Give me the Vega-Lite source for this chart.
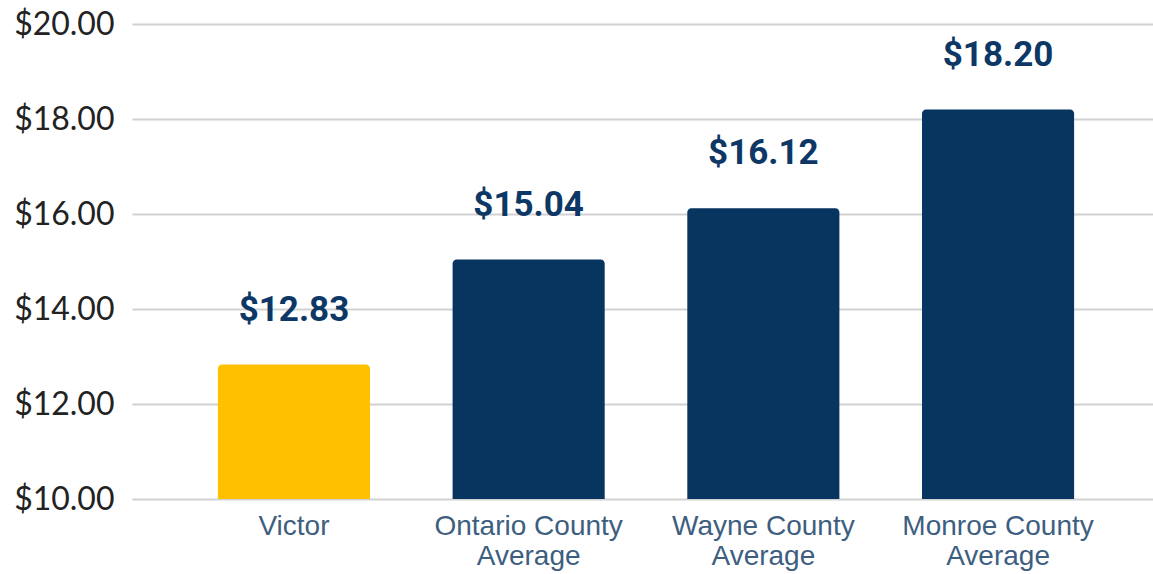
{
  "$schema": "https://vega.github.io/schema/vega-lite/v6.json",
  "width": 1028,
  "height": 475,
  "autosize": {"type": "none"},
  "padding": {"left": 132, "top": 24, "right": 0, "bottom": 75},
  "background": "white",
  "config": {"view": {"stroke": null}},
  "data": {
    "values": [
      {"place": "Victor", "wage": 12.83, "group": "Victor"},
      {"place": "Ontario County Average", "wage": 15.04, "group": "Other"},
      {"place": "Wayne County Average", "wage": 16.12, "group": "Other"},
      {"place": "Monroe County Average", "wage": 18.2, "group": "Other"}
    ]
  },
  "encoding": {
    "x": {
      "field": "place",
      "type": "nominal",
      "sort": null,
      "scale": {"paddingInner": 0.352, "paddingOuter": 0.366},
      "axis": {
        "title": null,
        "labelAngle": 0,
        "labelExpr": "split(datum.label, ' Average').length > 1 ? [replace(datum.label, ' Average', ''), 'Average'] : datum.label",
        "labelFont": "Liberation Sans",
        "labelFontSize": 28,
        "labelColor": "#3E5E80",
        "labelPadding": 13,
        "labelLineHeight": 30,
        "labelLimit": 0,
        "ticks": false,
        "domain": false
      }
    },
    "y": {
      "field": "wage",
      "type": "quantitative",
      "scale": {"domain": [10, 20], "zero": false, "nice": false},
      "axis": {
        "title": null,
        "values": [10, 12, 14, 16, 18, 20],
        "format": "$.2f",
        "labelFont": "Lato",
        "labelFontSize": 32,
        "labelColor": "#222222",
        "labelPadding": 18,
        "ticks": false,
        "domain": false,
        "grid": true,
        "gridColor": "#D2D2D2",
        "gridWidth": 2
      }
    }
  },
  "layer": [
    {
      "mark": {"type": "bar", "cornerRadiusTopLeft": 4, "cornerRadiusTopRight": 4},
      "encoding": {
        "y2": {"datum": 10},
        "color": {
          "field": "group",
          "type": "nominal",
          "scale": {"domain": ["Victor", "Other"], "range": ["#FFC000", "#08355F"]},
          "legend": null
        }
      }
    },
    {
      "mark": {
        "type": "text",
        "dy": -44,
        "baseline": "alphabetic",
        "font": "Roboto",
        "fontWeight": "bold",
        "fontSize": 35,
        "color": "#0D3866"
      },
      "encoding": {
        "text": {"field": "wage", "type": "quantitative", "format": "$.2f"}
      }
    }
  ]
}
